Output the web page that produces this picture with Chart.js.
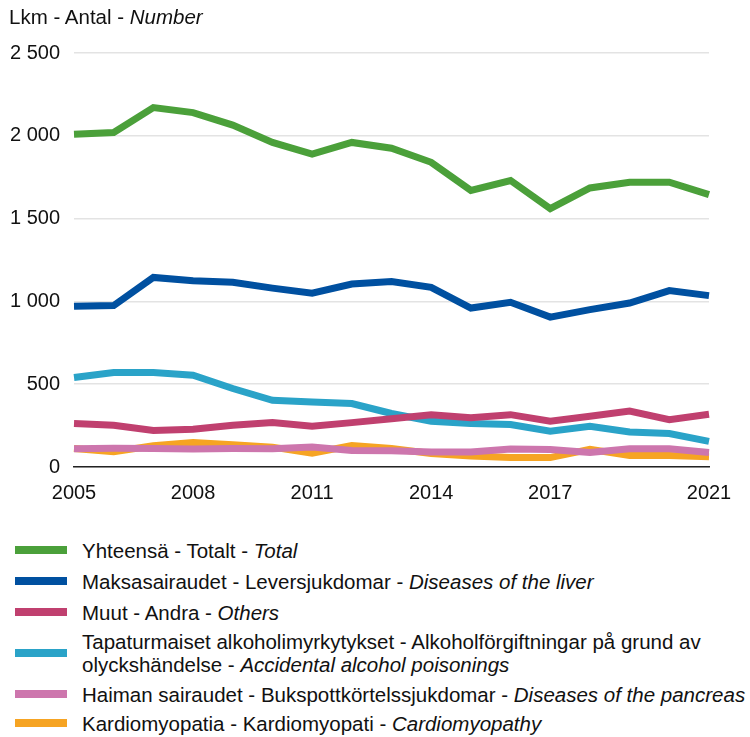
<!DOCTYPE html>
<html>
<head>
<meta charset="utf-8">
<script src="https://cdn.jsdelivr.net/npm/chart.js@4"></script>
<style>
body { margin: 0; background: #fff; font-family: "Liberation Sans", Arial, sans-serif; color: #111; }
#wrap { position: relative; width: 750px; height: 737px; }
#title { position: absolute; left: 9px; top: 5px; font-size: 20.5px; line-height: 24px; }
#chart { position: absolute; left: 0; top: 0; }
.leg { position: absolute; left: 0; width: 750px; font-size: 20.5px; line-height: 23px; }
.leg .bar { position: absolute; left: 15px; width: 52px; height: 8px; }
.leg .txt { position: absolute; left: 82px; white-space: nowrap; }
</style>
</head>
<body>
<div id="wrap">
  <canvas id="chart" width="750" height="505"></canvas>
  <div id="title">Lkm - Antal - <i>Number</i></div>
  <div id="legend"></div>
</div>
<script>
const years = [2005, 2006, 2007, 2008, 2009, 2010, 2011, 2012, 2013, 2014, 2015, 2016, 2017, 2018, 2019, 2020, 2021];
const shownYears = [2005, 2008, 2011, 2014, 2017, 2021];
const yTicks = [0, 500, 1000, 1500, 2000, 2500];

const total      = [2010, 2020, 2170, 2140, 2065, 1960, 1890, 1960, 1925, 1840, 1670, 1730, 1560, 1685, 1720, 1720, 1645];
const liver      = [970, 975, 1145, 1125, 1115, 1080, 1050, 1105, 1120, 1085, 960, 995, 905, 950, 990, 1065, 1035];
const others     = [262, 252, 220, 228, 252, 268, 246, 268, 292, 316, 298, 316, 276, 306, 338, 286, 318];
const accidental = [540, 570, 570, 554, 474, 403, 393, 383, 323, 276, 262, 256, 216, 246, 212, 202, 155];
const pancreas   = [110, 113, 111, 109, 111, 110, 120, 100, 98, 90, 90, 108, 105, 88, 110, 110, 88];
const cardio     = [112, 92, 128, 148, 135, 120, 83, 130, 112, 82, 67, 58, 57, 107, 70, 70, 62];

// nimet: tavallinen osa + kursiivi osa
const names = [
    ['Yhteensä - Totalt - ', 'Total'],
    ['Maksasairaudet - Leversjukdomar - ', 'Diseases of the liver'],
    ['Muut - Andra - ', 'Others'],
    ['Tapaturmaiset alkoholimyrkytykset - Alkoholförgiftningar på grund av<br>olyckshändelse - ', 'Accidental alcohol poisonings'],
    ['Haiman sairaudet - Bukspottkörtelssjukdomar - ', 'Diseases of the pancreas'],
    ['Kardiomyopatia - Kardiomyopati - ', 'Cardiomyopathy']
];
const colors = ['#4ba03a', '#0050a0', '#c0406f', '#2aa3c8', '#cd76ad', '#f6a423'];
const series = [total, liver, others, accidental, pancreas, cardio];
const legendCenters = [550, 581, 612, 653, 694, 723];

function fmt(v) {
    return String(v).replace(/\B(?=(\d{3})+(?!\d))/g, ' ');
}

new Chart(document.getElementById('chart'), {
    type: 'line',
    data: {
        labels: years,
        datasets: series.map((d, i) => ({
            label: names[i][0] + names[i][1],
            data: d,
            borderColor: colors[i],
            backgroundColor: colors[i]
        }))
    },
    options: {
        responsive: false,
        animation: false,
        layout: { padding: { top: 53, right: 41, left: 0, bottom: 0 } },
        plugins: { legend: { display: false }, tooltip: { enabled: false } },
        elements: {
            point: { radius: 0 },
            line: { borderWidth: 7, tension: 0, borderJoinStyle: 'miter', borderCapStyle: 'butt' }
        },
        scales: {
            x: {
                grid: { display: false },
                border: { color: '#222', width: 1.5 },
                ticks: {
                    autoSkip: false, maxRotation: 0, padding: 6, color: '#111',
                    font: { family: 'Liberation Sans', size: 20 },
                    callback: (v, i) => shownYears.includes(years[i]) ? String(years[i]) : ''
                },
                afterFit: s => { s.height = 38; }
            },
            y: {
                min: 0, max: 2500,
                grid: { color: '#e3e3e3', lineWidth: 1.5, drawTicks: false },
                border: { display: false },
                afterBuildTicks: s => { s.ticks = yTicks.map(v => ({ value: v })); },
                ticks: {
                    padding: 14, color: '#111',
                    font: { family: 'Liberation Sans', size: 20 },
                    callback: v => fmt(v)
                },
                afterFit: s => { s.width = 74; }
            }
        }
    }
});

// selite html:nä, koska yksi rivi rivittyy kahdelle
const legend = document.getElementById('legend');
legend.innerHTML = names.map((n, i) => {
    const lines = n[0].includes('<br>') ? 2 : 1;
    const c = legendCenters[i];
    return `<div class="leg" style="top:0">
        <div class="bar" style="top:${c - 4}px;background:${colors[i]}"></div>
        <div class="txt" style="top:${c - lines * 11.5}px">${n[0]}<i>${n[1]}</i></div>
    </div>`;
}).join('');
</script>
</body>
</html>
